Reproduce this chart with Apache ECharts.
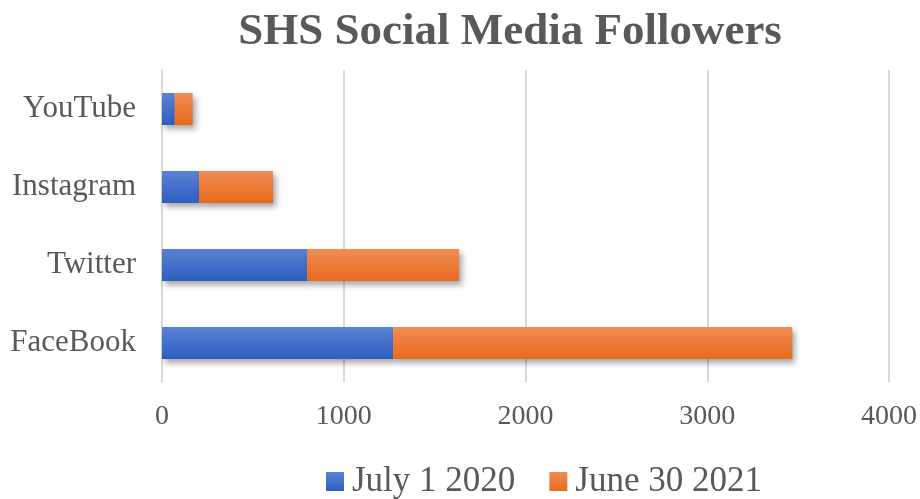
<!DOCTYPE html>
<html><head><meta charset="utf-8">
<script src="https://cdn.jsdelivr.net/npm/echarts@6/dist/echarts.min.js"></script>
<style>html,body{margin:0;padding:0;background:#fff}#c{width:920px;height:499px}</style>
</head><body><div id="c"></div>
<script>
const categories = ['FaceBook', 'Twitter', 'Instagram', 'YouTube'];
const july2020 = [1272, 798, 204, 70];
const june2021 = [2196, 837, 407, 99];
const xTicks = [0, 1000, 2000, 3000, 4000];
const seriesNames = ['July 1 2020', 'June 30 2021'];

const font = '"Liberation Serif", "DejaVu Serif", serif';
const chart = echarts.init(document.getElementById('c'));
function grad(top, bottom) {
  return new echarts.graphic.LinearGradient(0, 0, 0, 1, [
    {offset: 0, color: top}, {offset: 1, color: bottom}
  ]);
}
const shadow = {shadowBlur: 6, shadowOffsetX: 3, shadowOffsetY: 4, shadowColor: 'rgba(0,0,0,0.35)'};
chart.setOption({
  backgroundColor: '#fff',
  animation: false,
  title: {
    text: 'SHS Social Media Followers',
    left: 505, top: 5, textAlign: 'center',
    textStyle: {fontFamily: font, fontSize: 45, fontWeight: 'bold', color: '#595959'}
  },
  legend: {
    data: seriesNames,
    left: 321, top: 459,
    itemWidth: 18, itemHeight: 19, itemGap: 34,
    icon: 'rect',
    textStyle: {fontFamily: font, fontSize: 35, color: '#595959', padding: [0, 0, 0, 3]}
  },
  grid: {left: 162, right: 31, top: 70, bottom: 117},
  xAxis: {
    type: 'value', min: xTicks[0], max: xTicks[xTicks.length - 1], interval: 1000,
    axisLine: {show: false}, axisTick: {show: false},
    splitLine: {lineStyle: {color: '#d9d9d9', width: 2}},
    axisLabel: {fontFamily: font, fontSize: 28, color: '#595959', margin: 21,
      formatter: v => String(v)}
  },
  yAxis: {
    type: 'category', data: categories,
    axisLine: {show: true, lineStyle: {color: '#d9d9d9', width: 2}},
    axisTick: {show: false},
    axisLabel: {fontFamily: font, fontSize: 31, color: '#595959', margin: 26}
  },
  series: [
    {
      name: seriesNames[0], type: 'bar', stack: 'a', data: july2020, barWidth: '41%',
      itemStyle: Object.assign({color: grad('#5b82d2', '#2d5ec2')}, shadow)
    },
    {
      name: seriesNames[1], type: 'bar', stack: 'a', data: june2021, barWidth: '41%',
      itemStyle: Object.assign({color: grad('#f18d55', '#e8691c')}, shadow)
    }
  ]
});
</script></body></html>
